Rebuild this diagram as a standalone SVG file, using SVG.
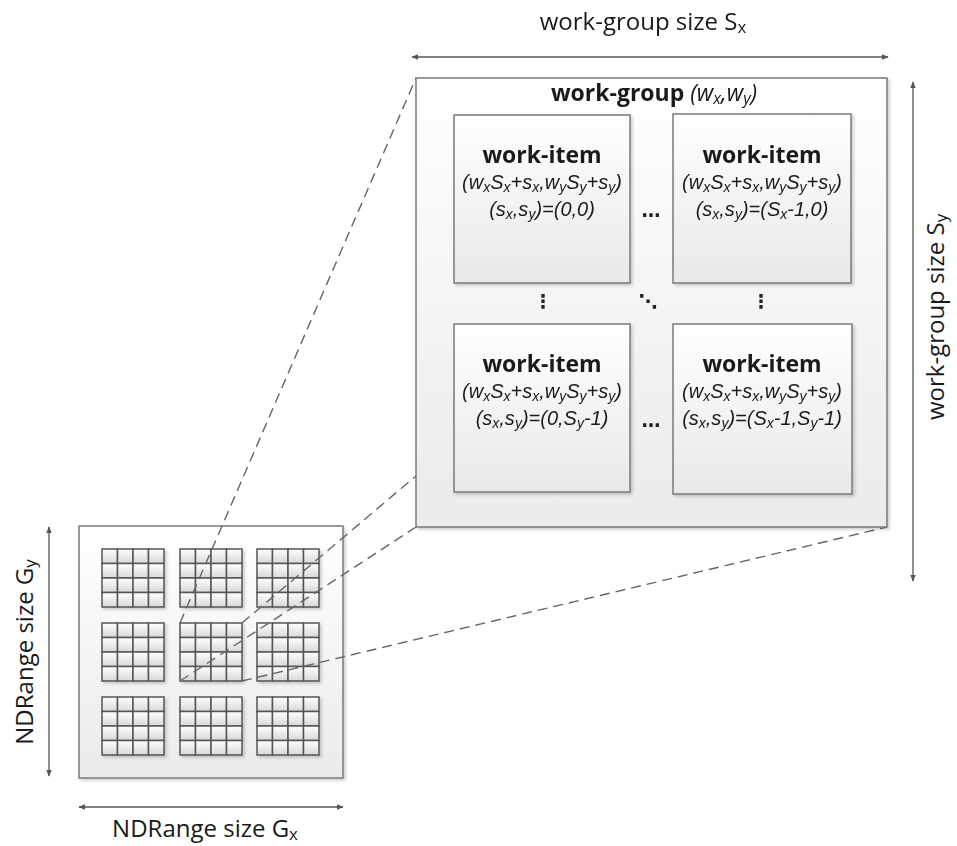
<svg xmlns="http://www.w3.org/2000/svg" xmlns:xlink="http://www.w3.org/1999/xlink" width="957" height="846" viewBox="0 0 957 846">
<style>
text{font-family:"Open Sans","Liberation Sans",sans-serif;fill:#1a1a1a}
.lbl{font-size:24px;text-anchor:middle}
.nd{font-size:24px;text-anchor:middle}
.wg{font-size:23px;text-anchor:middle;font-weight:bold}
.wi{font-size:23px;text-anchor:middle;font-weight:bold}
.co{font-family:"Liberation Sans",Arial,sans-serif;font-size:20px;text-anchor:middle;font-style:italic}
.s{font-size:70%}
.dots{font-family:"DejaVu Sans",sans-serif;font-size:19px;font-weight:bold;text-anchor:middle;fill:#222}
.box{stroke:#7a7a7a;stroke-width:1.5}
.arrow{stroke:#555;stroke-width:1.3;fill:none;marker-start:url(#ah);marker-end:url(#ah)}
.dash{stroke:#666;stroke-width:1.4;stroke-dasharray:10 6;fill:none}
.cell{fill:url(#gc);stroke:#555;stroke-width:1.5}
</style>
<defs>
<linearGradient id="gw" x1="0" y1="0" x2="0" y2="1"><stop offset="0" stop-color="#ffffff"/><stop offset="1" stop-color="#ebebeb"/></linearGradient>
<linearGradient id="gi" x1="0" y1="0" x2="0" y2="1"><stop offset="0" stop-color="#ffffff"/><stop offset="1" stop-color="#e9e9e9"/></linearGradient>
<linearGradient id="gc" x1="0" y1="0" x2="0" y2="1"><stop offset="0" stop-color="#ffffff"/><stop offset="1" stop-color="#d8d8d8"/></linearGradient>
<filter id="sh" x="-5%" y="-5%" width="115%" height="115%"><feDropShadow dx="2" dy="2" stdDeviation="1.5" flood-color="#000" flood-opacity="0.18"/></filter>
<marker id="ah" viewBox="0 0 10 10" refX="9" refY="5" markerWidth="7" markerHeight="7" orient="auto-start-reverse" markerUnits="userSpaceOnUse"><path d="M0,1 L10,5 L0,9 z" fill="#555"/></marker>
<g id="grid">
<rect class="cell" x="0" y="0" width="15.5" height="14.5"/><rect class="cell" x="15.5" y="0" width="15.5" height="14.5"/><rect class="cell" x="31" y="0" width="15.5" height="14.5"/><rect class="cell" x="46.5" y="0" width="15.5" height="14.5"/>
<rect class="cell" x="0" y="14.5" width="15.5" height="14.5"/><rect class="cell" x="15.5" y="14.5" width="15.5" height="14.5"/><rect class="cell" x="31" y="14.5" width="15.5" height="14.5"/><rect class="cell" x="46.5" y="14.5" width="15.5" height="14.5"/>
<rect class="cell" x="0" y="29" width="15.5" height="14.5"/><rect class="cell" x="15.5" y="29" width="15.5" height="14.5"/><rect class="cell" x="31" y="29" width="15.5" height="14.5"/><rect class="cell" x="46.5" y="29" width="15.5" height="14.5"/>
<rect class="cell" x="0" y="43.5" width="15.5" height="14.5"/><rect class="cell" x="15.5" y="43.5" width="15.5" height="14.5"/><rect class="cell" x="31" y="43.5" width="15.5" height="14.5"/><rect class="cell" x="46.5" y="43.5" width="15.5" height="14.5"/>
</g>
</defs>
<rect width="957" height="846" fill="#fff"/>

<g id="ndrange">
<rect class="box" x="79" y="526" width="264" height="252" fill="url(#gw)" filter="url(#sh)"/>
<g filter="url(#sh)">
<use xlink:href="#grid" x="102" y="549"/><use xlink:href="#grid" x="180" y="549"/><use xlink:href="#grid" x="257" y="549"/>
<use xlink:href="#grid" x="102" y="623"/><use xlink:href="#grid" x="180" y="623"/><use xlink:href="#grid" x="257" y="623"/>
<use xlink:href="#grid" x="102" y="697"/><use xlink:href="#grid" x="180" y="697"/><use xlink:href="#grid" x="257" y="697"/>
</g>
</g>

<g id="connectors">
<line class="dash" x1="180" y1="623" x2="416" y2="78"/>
<line class="dash" x1="242" y1="623" x2="887" y2="78"/>
<line class="dash" x1="180" y1="681" x2="416" y2="527"/>
<line class="dash" x1="242" y1="681" x2="887" y2="527"/>
<line class="arrow" x1="412" y1="57" x2="888" y2="57"/>
<line class="arrow" x1="913" y1="82" x2="913" y2="581"/>
<line class="arrow" x1="49" y1="527" x2="49" y2="776"/>
<line class="arrow" x1="79" y1="807" x2="343" y2="807"/>
</g>

<g id="workgroup">
<rect class="box" x="416" y="78" width="471" height="449" fill="url(#gw)" filter="url(#sh)"/>
<text class="wg" x="654" y="101">work-group <tspan font-weight="normal" font-style="italic">(w<tspan class="s" dy="3">x</tspan><tspan dy="-3">,w</tspan><tspan class="s" dy="3">y</tspan><tspan dy="-3">)</tspan></tspan></text>
</g>

<g id="item00">
<rect class="box" x="454" y="115" width="176" height="168" fill="url(#gi)" filter="url(#sh)"/>
<text class="wi" x="542" y="163">work-item</text>
<text class="co" x="542" y="189">(w<tspan class="s" dy="3">x</tspan><tspan dy="-3">S</tspan><tspan class="s" dy="3">x</tspan><tspan dy="-3">+s</tspan><tspan class="s" dy="3">x</tspan><tspan dy="-3">,w</tspan><tspan class="s" dy="3">y</tspan><tspan dy="-3">S</tspan><tspan class="s" dy="3">y</tspan><tspan dy="-3">+s</tspan><tspan class="s" dy="3">y</tspan><tspan dy="-3">)</tspan></text>
<text class="co" x="542" y="216">(s<tspan class="s" dy="3">x</tspan><tspan dy="-3">,s</tspan><tspan class="s" dy="3">y</tspan><tspan dy="-3">)=(0,0)</tspan></text>
</g>

<g id="item10">
<rect class="box" x="673" y="114" width="178" height="169" fill="url(#gi)" filter="url(#sh)"/>
<text class="wi" x="762" y="163">work-item</text>
<text class="co" x="762" y="189">(w<tspan class="s" dy="3">x</tspan><tspan dy="-3">S</tspan><tspan class="s" dy="3">x</tspan><tspan dy="-3">+s</tspan><tspan class="s" dy="3">x</tspan><tspan dy="-3">,w</tspan><tspan class="s" dy="3">y</tspan><tspan dy="-3">S</tspan><tspan class="s" dy="3">y</tspan><tspan dy="-3">+s</tspan><tspan class="s" dy="3">y</tspan><tspan dy="-3">)</tspan></text>
<text class="co" x="762" y="216">(s<tspan class="s" dy="3">x</tspan><tspan dy="-3">,s</tspan><tspan class="s" dy="3">y</tspan><tspan dy="-3">)=(S</tspan><tspan class="s" dy="3">x</tspan><tspan dy="-3">-1,0)</tspan></text>
</g>

<g id="item01">
<rect class="box" x="454" y="324" width="176" height="168" fill="url(#gi)" filter="url(#sh)"/>
<text class="wi" x="542" y="372">work-item</text>
<text class="co" x="542" y="398">(w<tspan class="s" dy="3">x</tspan><tspan dy="-3">S</tspan><tspan class="s" dy="3">x</tspan><tspan dy="-3">+s</tspan><tspan class="s" dy="3">x</tspan><tspan dy="-3">,w</tspan><tspan class="s" dy="3">y</tspan><tspan dy="-3">S</tspan><tspan class="s" dy="3">y</tspan><tspan dy="-3">+s</tspan><tspan class="s" dy="3">y</tspan><tspan dy="-3">)</tspan></text>
<text class="co" x="542" y="425">(s<tspan class="s" dy="3">x</tspan><tspan dy="-3">,s</tspan><tspan class="s" dy="3">y</tspan><tspan dy="-3">)=(0,S</tspan><tspan class="s" dy="3">y</tspan><tspan dy="-3">-1)</tspan></text>
</g>

<g id="item11">
<rect class="box" x="673" y="324" width="179" height="170" fill="url(#gi)" filter="url(#sh)"/>
<text class="wi" x="762" y="372">work-item</text>
<text class="co" x="762" y="398">(w<tspan class="s" dy="3">x</tspan><tspan dy="-3">S</tspan><tspan class="s" dy="3">x</tspan><tspan dy="-3">+s</tspan><tspan class="s" dy="3">x</tspan><tspan dy="-3">,w</tspan><tspan class="s" dy="3">y</tspan><tspan dy="-3">S</tspan><tspan class="s" dy="3">y</tspan><tspan dy="-3">+s</tspan><tspan class="s" dy="3">y</tspan><tspan dy="-3">)</tspan></text>
<text class="co" x="762" y="425">(s<tspan class="s" dy="3">x</tspan><tspan dy="-3">,s</tspan><tspan class="s" dy="3">y</tspan><tspan dy="-3">)=(S</tspan><tspan class="s" dy="3">x</tspan><tspan dy="-3">-1,S</tspan><tspan class="s" dy="3">y</tspan><tspan dy="-3">-1)</tspan></text>
</g>

<g id="ellipses">
<text class="dots" x="651" y="217">…</text>
<text class="dots" x="651" y="427">…</text>
<text class="dots" x="543" y="308">⋮</text>
<text class="dots" x="761" y="308">⋮</text>
<text class="dots" x="648" y="308">⋱</text>
</g>

<g id="labels">
<text class="lbl" x="643" y="30">work-group size S<tspan class="s" dy="3">x</tspan></text>
<text class="lbl" transform="translate(944,317) rotate(-90)">work-group size S<tspan class="s" dy="3">y</tspan></text>
<text class="nd" transform="translate(33,652) rotate(-90)">NDRange size G<tspan class="s" dy="3">y</tspan></text>
<text class="nd" x="205" y="837">NDRange size G<tspan class="s" dy="3">x</tspan></text>
</g>
</svg>
